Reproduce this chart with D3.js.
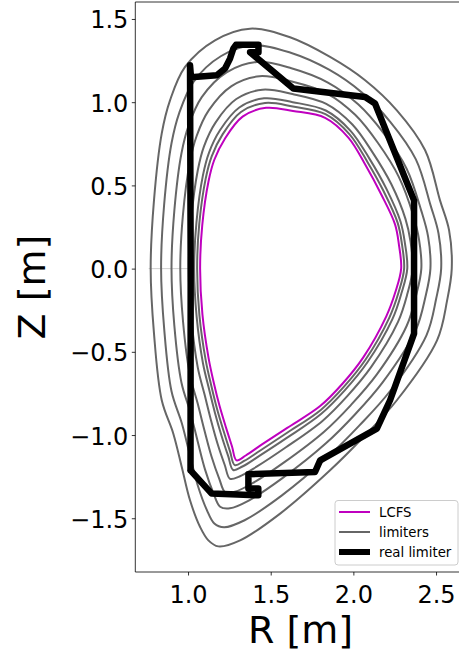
<!DOCTYPE html>
<html><head><meta charset="utf-8">
<script src="https://cdn.jsdelivr.net/npm/d3@7"></script>
<style>html,body{margin:0;padding:0;background:#fff;}svg{display:block;font-family:"DejaVu Sans",sans-serif;}</style>
</head><body>
<svg id="chart" width="459" height="654"></svg>
<script>
// ---- data (R, Z in metres) ----
const lcfsR = [2.289,2.276,2.252,2.168,2.074,1.971,1.829,1.635,1.472,1.330,1.222,1.159,1.124,1.086,1.073,1.087,1.124,1.156,1.190,1.229,1.266,1.293,1.349,1.445,1.600,1.799,1.934,2.061,2.199,2.255];
const lcfsZ = [0.000,0.140,0.266,0.447,0.621,0.786,0.906,0.947,0.966,0.913,0.779,0.654,0.525,0.261,0.000,-0.275,-0.536,-0.687,-0.823,-0.953,-1.069,-1.152,-1.123,-1.058,-0.957,-0.826,-0.692,-0.532,-0.287,-0.138];

const limiterR = [
 [2.307,2.294,2.268,2.184,2.085,1.977,1.831,1.634,1.466,1.320,1.208,1.143,1.107,1.068,1.055,1.069,1.107,1.141,1.176,1.216,1.254,1.283,1.339,1.437,1.597,1.803,1.942,2.073,2.217,2.274],
 [2.326,2.312,2.285,2.200,2.097,1.983,1.833,1.633,1.460,1.310,1.193,1.127,1.090,1.051,1.037,1.052,1.090,1.127,1.163,1.203,1.243,1.273,1.329,1.429,1.595,1.806,1.949,2.085,2.236,2.292],
 [2.359,2.346,2.315,2.229,2.117,1.994,1.836,1.631,1.450,1.292,1.167,1.097,1.059,1.019,1.004,1.020,1.059,1.100,1.138,1.179,1.222,1.254,1.311,1.415,1.590,1.813,1.963,2.107,2.270,2.327],
 [2.411,2.397,2.361,2.274,2.150,2.011,1.841,1.628,1.433,1.263,1.126,1.052,1.011,0.969,0.953,0.970,1.011,1.058,1.099,1.142,1.189,1.225,1.283,1.393,1.583,1.823,1.985,2.142,2.322,2.380],
 [2.466,2.452,2.410,2.322,2.184,2.029,1.846,1.625,1.416,1.233,1.083,1.004,0.960,0.917,0.900,0.917,0.960,1.014,1.058,1.103,1.154,1.194,1.253,1.370,1.575,1.834,2.008,2.178,2.377,2.436],
 [2.531,2.515,2.467,2.378,2.223,2.050,1.853,1.621,1.395,1.198,1.032,0.947,0.900,0.855,0.837,0.856,0.900,0.962,1.010,1.058,1.114,1.159,1.218,1.342,1.566,1.846,2.034,2.221,2.442,2.501],
 [2.595,2.579,2.524,2.434,2.263,2.071,1.859,1.617,1.375,1.163,0.982,0.891,0.841,0.794,0.774,0.794,0.841,0.911,0.962,1.012,1.073,1.123,1.183,1.315,1.557,1.859,2.061,2.263,2.506,2.567]
];
const limiterZ = [
 [0.000,0.145,0.275,0.463,0.641,0.807,0.928,0.974,0.995,0.941,0.805,0.675,0.542,0.270,0.000,-0.282,-0.551,-0.705,-0.845,-0.979,-1.098,-1.181,-1.156,-1.093,-0.988,-0.849,-0.711,-0.548,-0.296,-0.141],
 [0.000,0.151,0.283,0.479,0.661,0.828,0.950,1.000,1.023,0.968,0.831,0.697,0.560,0.279,0.000,-0.289,-0.567,-0.724,-0.867,-1.006,-1.127,-1.210,-1.189,-1.127,-1.019,-0.872,-0.730,-0.563,-0.304,-0.144],
 [0.000,0.161,0.299,0.508,0.697,0.866,0.990,1.049,1.075,1.019,0.879,0.736,0.591,0.295,0.000,-0.301,-0.595,-0.757,-0.908,-1.054,-1.180,-1.263,-1.249,-1.190,-1.075,-0.915,-0.766,-0.592,-0.320,-0.150],
 [0.000,0.176,0.324,0.553,0.753,0.924,1.052,1.124,1.156,1.097,0.952,0.797,0.640,0.321,0.000,-0.321,-0.638,-0.809,-0.971,-1.129,-1.263,-1.344,-1.341,-1.288,-1.163,-0.980,-0.820,-0.636,-0.345,-0.159],
 [0.000,0.192,0.350,0.600,0.812,0.987,1.118,1.204,1.242,1.179,1.030,0.861,0.692,0.347,0.000,-0.341,-0.684,-0.864,-1.037,-1.208,-1.350,-1.431,-1.440,-1.392,-1.256,-1.050,-0.878,-0.682,-0.371,-0.169],
 [0.000,0.211,0.380,0.656,0.882,1.059,1.195,1.297,1.342,1.276,1.121,0.936,0.753,0.379,0.000,-0.365,-0.737,-0.928,-1.115,-1.300,-1.451,-1.532,-1.554,-1.512,-1.364,-1.131,-0.945,-0.737,-0.401,-0.180],
 [0.000,0.230,0.410,0.711,0.951,1.132,1.272,1.390,1.442,1.372,1.212,1.011,0.813,0.410,0.000,-0.389,-0.791,-0.992,-1.192,-1.392,-1.553,-1.633,-1.669,-1.633,-1.472,-1.212,-1.012,-0.791,-0.431,-0.191]
];

const realR = [1.015,1.016,1.012,1.018,1.174,1.224,1.254,1.274,1.290,1.426,1.426,1.375,1.637,2.071,2.131,2.367,2.367,2.222,2.142,1.799,1.768,1.365,1.365,1.425,1.425,1.143,1.015];
const realZ = [-1.212,0.000,1.222,1.150,1.162,1.202,1.262,1.322,1.345,1.345,1.300,1.300,1.082,1.031,0.992,0.410,-0.391,-0.791,-0.962,-1.152,-1.222,-1.236,-1.322,-1.322,-1.362,-1.352,-1.212];

const seamR = [0.762, 1.012];
const seamZ = [0.0, 0.0];

const xTicks = [1.0, 1.5, 2.0, 2.5];
const yTicks = [-1.5, -1.0, -0.5, 0.0, 0.5, 1.0, 1.5];
const legendLabels = ["LCFS", "limiters", "real limiter"];

(function draw(){
const svg = d3.select("#chart");
const pL = 135.3, pR = 465.8, pT = 2, pB = 572;
const x = d3.scaleLinear().domain([0.681, 2.68]).range([pL, pR]);
const y = d3.scaleLinear().domain([-1.823, 1.602]).range([pB, pT]);

svg.append("defs").append("clipPath").attr("id","clip")
  .append("rect").attr("x",pL).attr("y",pT).attr("width",pR-pL).attr("height",pB-pT);

const plot = svg.append("g").attr("clip-path","url(#clip)");
const line = d3.line().x(d=>x(d[0])).y(d=>y(d[1]));
const smooth = d3.line().x(d=>x(d[0])).y(d=>y(d[1])).curve(d3.curveCatmullRomClosed.alpha(0.5));

plot.append("path").datum(seamR.map((r,i)=>[r,seamZ[i]]))
  .attr("d", line).attr("fill","none").attr("stroke","#666").attr("stroke-opacity",0.3).attr("stroke-width",1);

plot.append("path").datum(lcfsR.map((r,i)=>[r,lcfsZ[i]]))
  .attr("d", smooth).attr("fill","none").attr("stroke","#bf00bf").attr("stroke-width",2);

limiterR.forEach((rs,k)=>{
  plot.append("path").datum(rs.map((r,i)=>[r,limiterZ[k][i]]))
    .attr("d", smooth).attr("fill","none").attr("stroke","#666666").attr("stroke-width",2);
});

plot.append("path").datum(realR.map((r,i)=>[r,realZ[i]]))
  .attr("d", line).attr("fill","none").attr("stroke","#000").attr("stroke-width",6.5)
  .attr("stroke-linejoin","round").attr("stroke-linecap","round");

const fmt = v => d3.format(".1f")(v).replace("-", "\u2212");
const xAxis = svg.append("g").attr("transform",`translate(0,${pB})`)
  .call(d3.axisBottom(x).tickValues(xTicks).tickSize(3.5).tickPadding(3.5).tickFormat(fmt));
const yAxis = svg.append("g").attr("transform",`translate(${pL},0)`)
  .call(d3.axisLeft(y).tickValues(yTicks).tickSize(3.5).tickPadding(3.5).tickFormat(fmt));
[xAxis,yAxis].forEach(a=>{
  a.select(".domain").remove();
  a.selectAll(".tick line").attr("stroke","#000").attr("stroke-width",0.8);
  a.selectAll(".tick text").attr("font-size",24).attr("fill","#000").attr("font-family","DejaVu Sans");
});
xAxis.selectAll(".tick text").attr("dy",null).attr("y",31);
yAxis.selectAll(".tick text").attr("dy",null).attr("x",-7).attr("y",9);

const spine = (x1,y1,x2,y2)=>svg.append("line").attr("x1",x1).attr("y1",y1).attr("x2",x2).attr("y2",y2).attr("stroke","#000").attr("stroke-width",0.8);
spine(pL,pT,pL,pB); spine(pL,pB,pR,pB); spine(pL,pT,pR,pT); spine(pR,pT,pR,pB);

svg.append("text").attr("x",(pL+pR)/2).attr("y",643).attr("text-anchor","middle")
  .attr("font-size",38).attr("fill","#000").text("R [m]");
svg.append("text").attr("transform",`translate(45,${(pT+pB)/2}) rotate(-90)`).attr("text-anchor","middle")
  .attr("font-size",38).attr("fill","#000").text("Z [m]");

const lg = svg.append("g");
lg.append("rect").attr("x",335).attr("y",500.5).attr("width",123).attr("height",64.5).attr("rx",3)
  .attr("fill","#fff").attr("fill-opacity",0.8).attr("stroke","#cccccc").attr("stroke-width",1);
const legColors = ["#bf00bf","#666666","#000"];
const legWidths = [2,2,6];
legendLabels.forEach((lab,i)=>{
  const yy = 512 + i*20;
  lg.append("line").attr("x1",339).attr("x2",370).attr("y1",yy).attr("y2",yy)
    .attr("stroke",legColors[i]).attr("stroke-width",legWidths[i]);
  lg.append("text").attr("x",379).attr("y",yy+4.8).attr("font-size",13.3).attr("fill","#000").text(lab);
});
})();
</script>
</body></html>
